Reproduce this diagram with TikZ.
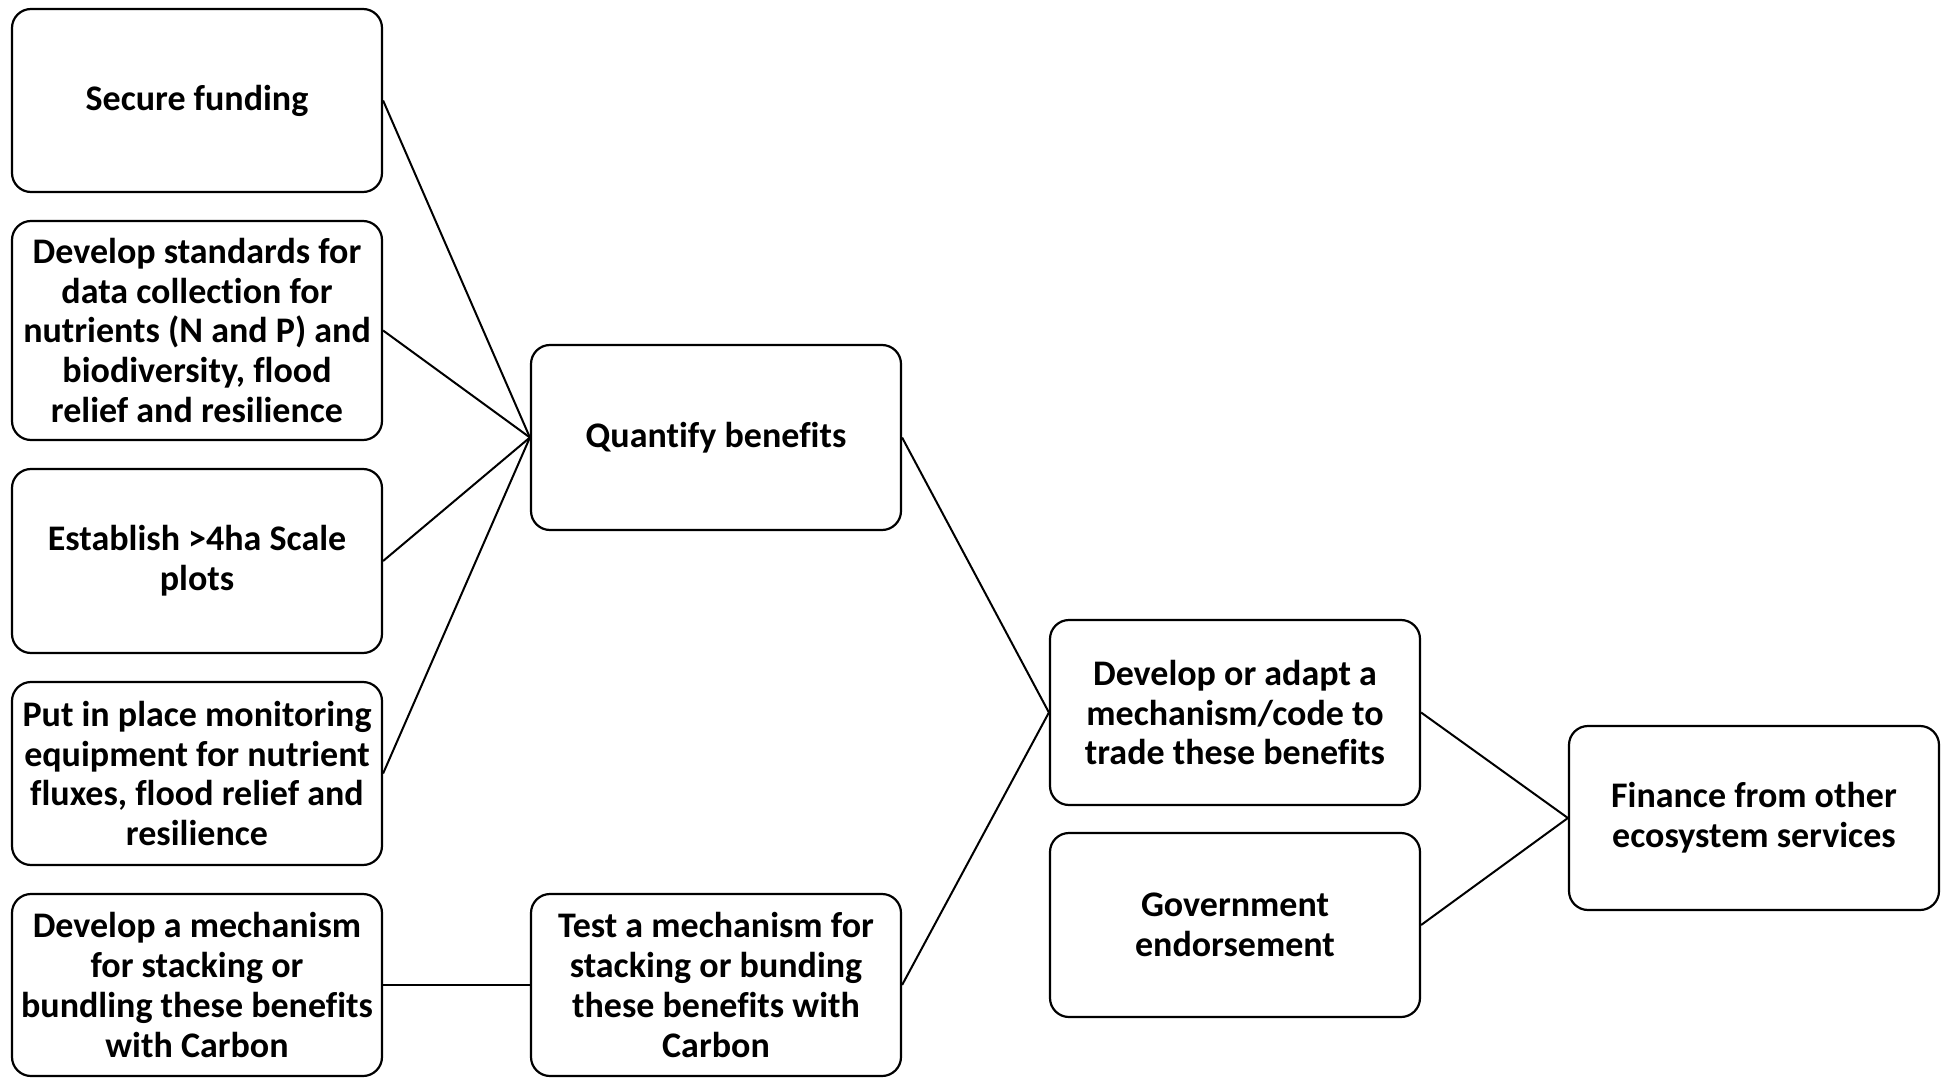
\documentclass[tikz,border=0pt]{standalone}
\usepackage{fontspec}
\setmainfont{Carlito}[Ligatures=NoCommon]
\begin{document}
\begin{tikzpicture}[x=1pt,y=-1pt,
  box/.style={draw=black, line width=2.2pt, rounded corners=19pt, minimum width=370pt,
    minimum height=184pt, align=center, inner sep=0pt,
    font=\fontsize{36}{39.7}\selectfont\bfseries},
  conn/.style={draw=black, line width=2pt}]
\useasboundingbox (0,0) rectangle (1947,1078);
\node[box, minimum height=183pt] (sf) at (197,100.5) {Secure funding};
\node[box, minimum height=219pt] (ds) at (197,330.5) {Develop standards for\\data collection for\\nutrients (N and P) and\\biodiversity, flood\\relief and resilience};
\node[box] (es) at (197,561) {Establish >4ha Scale\\plots};
\node[box, minimum height=183pt] (pm) at (197,773.5) {Put in place monitoring\\equipment for nutrient\\fluxes, flood relief and\\resilience};
\node[box, minimum height=182pt] (dm) at (197,985) {Develop a mechanism\\for stacking or\\bundling these benefits\\with Carbon};
\node[box, minimum height=185pt] (qb) at (716,437.5) {Quantify benefits};
\node[box, minimum height=182pt] (tm) at (716,985) {Test a mechanism for\\stacking or bunding\\these benefits with\\Carbon};
\node[box, minimum height=185pt] (da) at (1235,712.5) {Develop or adapt a\\mechanism/code to\\trade these benefits};
\node[box] (ge) at (1235,925) {Government\\endorsement};
\node[box] (fo) at (1754,818) {Finance from other\\ecosystem services};
\draw[conn] (sf.east) -- (qb.west);
\draw[conn] (ds.east) -- (qb.west);
\draw[conn] (es.east) -- (qb.west);
\draw[conn] (pm.east) -- (qb.west);
\draw[conn] (dm.east) -- (tm.west);
\draw[conn] (qb.east) -- (da.west);
\draw[conn] (tm.east) -- (da.west);
\draw[conn] (da.east) -- (fo.west);
\draw[conn] (ge.east) -- (fo.west);
\end{tikzpicture}
\end{document}
